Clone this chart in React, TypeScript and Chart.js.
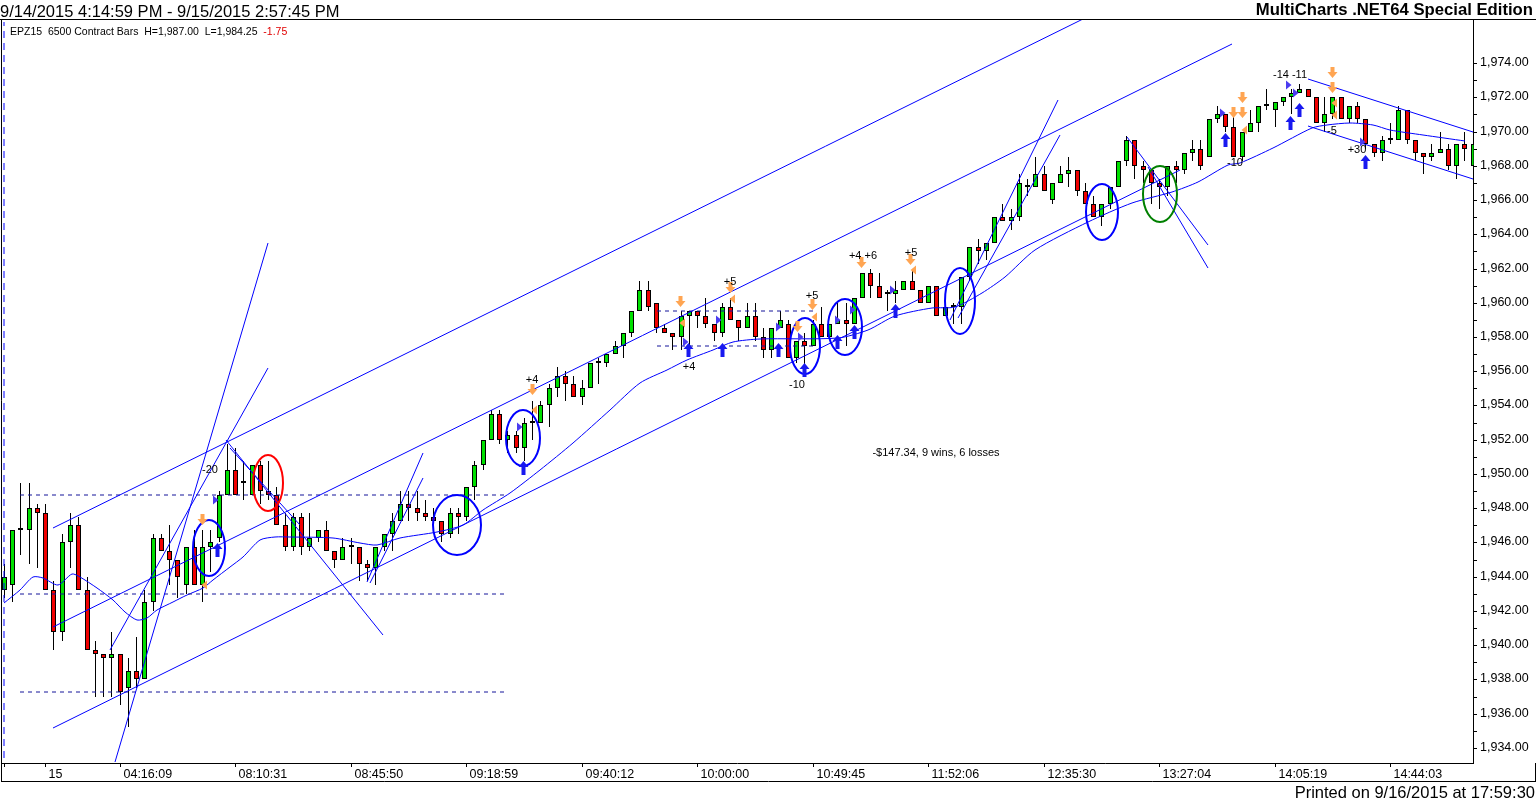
import React, { useEffect, useRef } from 'react';
import { Chart, registerables } from 'chart.js';

Chart.register(...registerables);

// ---------------- data ----------------
const opens = [
  1943.25, 1943.5, 1946.75, 1946.75, 1948.0, 1947.75, 1943.25, 1940.75, 1946.0, 1947.0,
  1943.25, 1939.75, 1939.5, 1939.25, 1939.5, 1937.5, 1938.5, 1938.0, 1942.5, 1946.25,
  1945.5, 1945.0, 1943.5, 1945.75, 1943.5, 1945.75, 1946.25, 1948.75, 1950.25, 1949.5,
  1948.75, 1950.5, 1949.0, 1948.75, 1947.0, 1945.75, 1947.5, 1945.75, 1946.25, 1946.75,
  1945.5, 1945.0, 1945.75, 1945.75, 1944.75, 1944.5, 1945.75, 1946.5, 1947.25, 1948.25,
  1948.0, 1947.75, 1947.5, 1947.25, 1946.5, 1947.75, 1947.5, 1949.25, 1950.5, 1952.0,
  1953.5, 1952.0, 1952.25, 1951.5, 1953.0, 1953.0, 1954.0, 1955.0, 1955.75, 1955.25,
  1954.5, 1955.0, 1956.5, 1956.5, 1957.0, 1957.5, 1958.25, 1959.5, 1960.75, 1960.0,
  1958.5, 1958.25, 1958.0, 1959.25, 1959.5, 1959.25, 1958.75, 1958.25, 1959.75, 1959.0,
  1958.5, 1959.25, 1958.0, 1957.25, 1958.5, 1958.75, 1956.75, 1957.75, 1957.5, 1958.75,
  1958.0, 1958.75, 1959.0, 1958.75, 1960.25, 1961.75, 1961.0, 1960.5, 1960.5, 1960.75,
  1961.25, 1960.75, 1960.0, 1961.0, 1959.25, 1959.75, 1959.75, 1961.5, 1963.25, 1963.0,
  1963.5, 1965.0, 1964.75, 1965.0, 1966.75, 1966.75, 1967.5, 1966.0, 1967.0, 1967.5,
  1967.75, 1966.5, 1965.75, 1965.0, 1965.75, 1966.75, 1968.25, 1969.5, 1968.0, 1967.75,
  1967.0, 1966.75, 1968.0, 1967.75, 1968.75, 1969.0, 1968.5, 1970.75, 1971.0, 1970.25,
  1968.5, 1970.0, 1970.5, 1971.5, 1971.25, 1971.75, 1972.0, 1972.25, 1972.5, 1972.0,
  1970.5, 1971.0, 1972.0, 1970.75, 1971.5, 1970.75, 1969.25, 1968.75, 1969.5, 1969.5,
  1971.25, 1969.5, 1968.75, 1968.5, 1968.75, 1969.0, 1968.0, 1969.25, 1968.0,
];
const highs = [
  1944.75, 1946.75, 1949.5, 1949.5, 1948.25, 1948.25, 1943.75, 1946.5, 1947.75, 1947.5,
  1944.0, 1940.25, 1939.5, 1940.75, 1939.5, 1939.25, 1940.5, 1943.25, 1946.5, 1946.5,
  1947.0, 1945.0, 1945.75, 1946.75, 1946.75, 1946.75, 1949.0, 1951.75, 1951.5, 1950.75,
  1950.5, 1950.75, 1950.75, 1949.25, 1947.75, 1947.75, 1947.75, 1947.75, 1946.75, 1947.25,
  1945.5, 1946.25, 1946.25, 1945.75, 1945.0, 1945.75, 1946.5, 1947.75, 1949.0, 1949.0,
  1949.0, 1948.5, 1948.0, 1947.25, 1948.0, 1948.0, 1949.25, 1950.75, 1952.0, 1953.75,
  1953.75, 1952.5, 1952.5, 1953.25, 1954.25, 1954.25, 1955.25, 1956.25, 1956.0, 1955.75,
  1955.5, 1956.5, 1956.75, 1957.0, 1957.75, 1958.25, 1959.5, 1961.25, 1961.25, 1960.0,
  1958.75, 1958.25, 1959.5, 1959.5, 1959.5, 1960.25, 1958.75, 1960.0, 1960.25, 1959.0,
  1960.0, 1960.0, 1958.5, 1958.5, 1959.5, 1959.0, 1957.75, 1958.25, 1959.0, 1959.75,
  1958.75, 1960.0, 1960.0, 1960.25, 1961.75, 1962.0, 1961.75, 1960.75, 1961.25, 1961.25,
  1962.0, 1960.75, 1961.0, 1961.0, 1959.75, 1960.0, 1961.5, 1963.25, 1963.75, 1963.5,
  1965.0, 1965.75, 1965.5, 1967.5, 1967.25, 1968.5, 1968.0, 1967.0, 1968.0, 1968.5,
  1967.75, 1967.0, 1966.25, 1965.75, 1966.75, 1968.25, 1969.75, 1969.5, 1968.25, 1967.75,
  1967.25, 1968.0, 1968.25, 1968.75, 1969.5, 1969.5, 1970.75, 1971.5, 1971.0, 1971.0,
  1970.0, 1971.25, 1971.5, 1972.5, 1971.75, 1972.0, 1972.5, 1972.75, 1972.5, 1972.0,
  1972.0, 1972.0, 1972.0, 1971.5, 1971.75, 1970.75, 1969.25, 1969.75, 1970.5, 1971.5,
  1971.25, 1969.5, 1968.75, 1969.25, 1970.0, 1969.25, 1969.25, 1970.0, 1969.5,
];
const lows = [
  1942.75, 1942.5, 1945.25, 1944.75, 1944.5, 1943.25, 1939.75, 1940.25, 1944.5, 1943.25,
  1939.75, 1937.0, 1937.0, 1937.0, 1936.5, 1935.25, 1937.5, 1938.0, 1942.0, 1945.5,
  1943.5, 1942.75, 1943.0, 1943.5, 1942.5, 1944.25, 1946.0, 1948.75, 1948.75, 1948.5,
  1948.75, 1948.25, 1948.5, 1947.0, 1945.5, 1945.5, 1945.25, 1945.5, 1946.0, 1945.5,
  1944.5, 1945.0, 1944.75, 1943.75, 1943.75, 1943.5, 1945.5, 1945.5, 1947.25, 1947.25,
  1947.25, 1947.25, 1947.0, 1946.0, 1946.25, 1946.5, 1947.25, 1948.5, 1950.25, 1952.0,
  1951.75, 1951.25, 1951.25, 1950.75, 1952.0, 1953.0, 1952.75, 1954.5, 1954.25, 1954.5,
  1954.0, 1955.0, 1955.25, 1956.25, 1957.0, 1956.75, 1958.0, 1959.5, 1959.5, 1958.25,
  1958.25, 1957.25, 1957.25, 1957.25, 1958.5, 1958.5, 1957.75, 1958.0, 1959.0, 1957.75,
  1958.5, 1957.75, 1956.75, 1956.75, 1958.5, 1956.75, 1956.5, 1956.25, 1957.5, 1958.0,
  1958.0, 1958.75, 1957.5, 1958.75, 1960.25, 1960.25, 1960.25, 1959.5, 1960.0, 1960.75,
  1960.75, 1960.0, 1960.0, 1959.25, 1959.25, 1958.75, 1958.75, 1961.25, 1962.25, 1962.5,
  1963.5, 1964.75, 1964.25, 1964.75, 1966.25, 1966.75, 1966.5, 1965.75, 1967.0, 1966.75,
  1966.25, 1965.75, 1965.0, 1964.5, 1965.5, 1966.75, 1968.0, 1967.25, 1967.0, 1965.75,
  1965.5, 1966.25, 1967.0, 1967.5, 1968.25, 1967.75, 1968.5, 1970.5, 1970.0, 1968.5,
  1968.25, 1970.0, 1970.0, 1971.25, 1970.25, 1971.5, 1971.0, 1972.25, 1972.0, 1970.5,
  1970.0, 1970.75, 1970.75, 1970.5, 1970.5, 1969.0, 1968.5, 1968.25, 1969.25, 1969.5,
  1969.25, 1968.25, 1967.5, 1968.25, 1968.75, 1967.75, 1967.25, 1968.25, 1967.5,
];
const closes = [
  1944.0, 1946.75, 1946.75, 1948.0, 1947.75, 1943.25, 1940.75, 1946.0, 1947.0, 1943.25,
  1939.75, 1939.5, 1939.25, 1939.5, 1937.25, 1938.5, 1938.0, 1942.5, 1946.25, 1945.5,
  1945.0, 1944.0, 1945.75, 1943.5, 1945.75, 1946.0, 1948.75, 1950.25, 1948.75, 1949.5,
  1950.5, 1949.0, 1948.75, 1947.0, 1945.75, 1947.5, 1945.75, 1946.25, 1946.75, 1945.5,
  1945.0, 1945.75, 1945.75, 1944.75, 1944.5, 1945.75, 1946.5, 1947.25, 1948.25, 1948.0,
  1947.75, 1947.5, 1947.25, 1946.5, 1947.75, 1947.5, 1949.25, 1950.5, 1952.0, 1953.5,
  1952.0, 1952.25, 1951.5, 1953.0, 1953.0, 1954.0, 1955.0, 1955.75, 1955.25, 1954.5,
  1955.0, 1956.5, 1956.5, 1957.0, 1957.5, 1958.25, 1959.5, 1960.75, 1959.75, 1958.5,
  1958.25, 1958.0, 1959.25, 1959.5, 1959.25, 1958.75, 1958.25, 1959.75, 1959.0, 1958.5,
  1959.25, 1958.0, 1957.25, 1958.5, 1959.0, 1956.75, 1957.75, 1957.5, 1958.75, 1958.0,
  1958.75, 1959.0, 1958.75, 1960.25, 1961.75, 1961.0, 1960.25, 1960.5, 1960.75, 1961.25,
  1960.75, 1960.0, 1961.0, 1959.25, 1959.75, 1959.75, 1961.5, 1963.25, 1963.0, 1963.5,
  1965.0, 1964.75, 1965.0, 1967.0, 1966.75, 1967.5, 1966.5, 1967.0, 1967.5, 1967.75,
  1966.5, 1965.75, 1965.0, 1965.75, 1966.75, 1968.25, 1969.5, 1968.0, 1967.75, 1967.0,
  1966.75, 1968.0, 1967.75, 1968.75, 1969.0, 1968.0, 1970.75, 1971.0, 1970.25, 1968.5,
  1970.0, 1970.5, 1971.5, 1971.5, 1971.75, 1972.0, 1972.25, 1972.5, 1972.0, 1970.5,
  1971.0, 1972.0, 1970.75, 1971.5, 1970.75, 1969.25, 1968.75, 1969.5, 1969.5, 1971.25,
  1969.5, 1968.75, 1968.5, 1968.75, 1969.0, 1968.0, 1969.25, 1969.0, 1969.25,
];

// x-axis time labels (bar index of each tick)
const xTickIdx = [0, 5, 14, 28, 42, 56, 70, 84, 98, 112, 126, 140, 154, 168];
const xTickLabels = ['', '15', '04:16:09', '08:10:31', '08:45:50', '09:18:59', '09:40:12',
  '10:00:00', '10:49:45', '11:52:06', '12:35:30', '13:27:04', '14:05:19', '14:44:03'];

// price axis
const yMin = 1933.124;
const yMax = 1976.511;
const yTickFirst = 1934;
const yTickLast = 1974;
const xMin = -0.3636;
const xMax = 178.06;

// moving average
const maIdx = [0, 1.94, 3.52, 4.73, 6.55, 8.24, 9.21, 11.27, 13.21, 14.67, 16.12, 17.33, 18.55,
  20.48, 22.18, 24.12, 25.33, 27.39, 28.97, 31.03, 32.85, 34.67, 39.88, 43.15, 45.21, 48.0,
  52.48, 55.64, 58.06, 61.33, 64.97, 68.97, 73.45, 77.09, 80.36, 82.79, 85.94, 88.36, 91.64,
  101.1, 104.7, 108.0, 112.5, 115.3, 118.5, 121.3, 125.0, 131.4, 136.7, 141.6, 144.7, 148.4,
  149.8, 153.8, 158.5, 160.4, 163.2, 165.9, 168.0, 172.0, 177.1];
const maVal = [1942.47, 1943.23, 1943.99, 1943.93, 1943.52, 1944.16, 1943.99, 1943.34, 1942.64,
  1941.94, 1941.47, 1941.59, 1942.06, 1942.53, 1942.93, 1943.34, 1943.81, 1944.57, 1945.15,
  1946.15, 1946.32, 1946.32, 1946.26, 1945.97, 1945.85, 1946.26, 1946.61, 1947.02, 1947.9,
  1948.89, 1950.23, 1951.81, 1953.74, 1955.31, 1956.07, 1956.66, 1957.24, 1957.71, 1957.88,
  1957.94, 1958.41, 1959.23, 1959.69, 1959.75, 1960.57, 1961.5, 1963.08, 1964.72, 1965.82,
  1966.47, 1967.05, 1968.04, 1968.16, 1969.04, 1970.2, 1970.38, 1970.5, 1970.38, 1970.09,
  1969.8, 1969.45];

// trend lines: [startIdx, startPrice, endIdx, endPrice]
const trendLines = [
  [5.94, 1946.85, 131.03, 1976.63],
  [5.94, 1941.07, 148.85, 1975.11],
  [5.94, 1935.17, 142.55, 1967.75],
  [13.45, 1933.18, 32.0, 1963.49],
  [12.85, 1939.72, 32.0, 1956.19],
  [26.9, 1951.99, 45.94, 1940.6],
  [27.4, 1951.52, 35.88, 1947.02],
  [44.0, 1943.69, 50.79, 1951.23],
  [44.36, 1943.63, 50.79, 1949.77],
  [114.67, 1958.99, 127.76, 1971.84],
  [115.64, 1959.11, 128.0, 1969.8],
  [136.12, 1969.68, 145.94, 1963.37],
  [138.67, 1967.93, 145.94, 1962.03],
  [158.06, 1973.07, 178.06, 1969.97],
  [158.06, 1970.32, 178.06, 1967.23],
];

// horizontal dashed levels
const levelPrice = [1948.75, 1943.0, 1937.25, 1959.5, 1957.5];
const levelFrom = [1.94, 1.94, 1.94, 79.2, 79.2];
const levelTo = [61.1, 61.1, 61.1, 98.0, 98.0];
const sessionBreakIdx = -0.06;

// ellipses: centre idx, centre price, half width (bars), half height (points), kind
const ellipseIdx = [24.85, 32.0, 54.9, 62.9, 97.1, 101.9, 115.9, 133.1, 140.1];
const ellipsePrice = [1945.68, 1949.47, 1947.02, 1952.1, 1957.47, 1958.58, 1960.1, 1965.3, 1966.35];
const ellipseHalfBars = [1.94, 1.82, 2.9, 2.06, 1.82, 2.06, 1.82, 1.94, 2.06];
const ellipseHalfPts = [1.64, 1.64, 1.75, 1.64, 1.64, 1.64, 1.93, 1.64, 1.64];
const ellipseKind = ['b', 'r', 'b', 'b', 'b', 'b', 'b', 'b', 'g'];

// trade markers [idx, price]
const shortArrows = [[24.0, 1947.31], [64.0, 1954.9], [81.9, 1960.04], [88.0, 1960.86],
  [96.1, 1958.58], [97.9, 1959.87], [103.9, 1962.32], [109.8, 1962.5], [149.0, 1971.08],
  [150.1, 1971.96], [150.1, 1971.08], [161.0, 1973.42], [161.0, 1972.54]];
const longArrows = [[25.8, 1945.56], [62.9, 1950.35], [82.9, 1957.24], [87.0, 1957.24],
  [93.8, 1957.24], [97.0, 1956.07], [101.0, 1957.71], [103.0, 1958.29], [108.0, 1959.52],
  [148.0, 1969.5], [155.9, 1970.5], [157.0, 1971.26], [165.0, 1968.22]];
const entryMarks = [[25.6, 1948.48], [62.4, 1952.74], [82.5, 1957.71], [86.5, 1959.0],
  [93.8, 1958.58], [96.5, 1958.0], [101.0, 1959.0], [102.8, 1959.58], [107.6, 1960.74],
  [147.6, 1971.08], [155.6, 1972.72], [156.5, 1972.25], [164.6, 1969.39]];
const exitMarks = [[24.4, 1943.52], [64.4, 1953.74], [82.3, 1958.82], [88.4, 1960.22],
  [98.3, 1959.17], [110.3, 1961.91], [150.4, 1970.09], [161.3, 1971.66], [161.3, 1970.96]];

const tradeLabelText = ['-20', '+4', '+4', '+5', '-10', '+5', '+4 +6', '+5', '-10', '-14 -11', '-5', '+30'];
const tradeLabelIdx = [25.0, 64.0, 83.0, 88.0, 96.1, 97.9, 104.1, 109.9, 149.2, 155.9, 161.0, 164.0];
const tradeLabelPrice = [1950.23, 1955.49, 1956.25, 1961.21, 1955.2, 1960.39, 1962.73, 1962.91,
  1968.16, 1973.3, 1970.03, 1968.92];
const summaryText = '-$147.34, 9 wins, 6 losses';
const summaryIdx = 113.0;
const summaryPrice = 1951.23;

// ---------------- styles ----------------
const FONT = '"Liberation Sans", Arial, sans-serif';
const UP = '#00e000';
const DOWN = '#f00000';
const LINE_BLUE = '#0000ff';
const ORANGE = '#ffa552';
const ellipseColors: any = { b: '#0000ff', r: '#ff0000', g: '#008000' };

const overlayPlugin = {
  id: 'overlay',
  beforeDatasetDraw(chart: any, args: any) {
    if (chart.data.datasets[args.index].crisp) {
      chart.ctx.save();
      chart.ctx.translate(0.5, 0);
    }
  },
  afterDatasetDraw(chart: any, args: any) {
    if (chart.data.datasets[args.index].crisp) chart.ctx.restore();
  },
  afterDatasetsDraw(chart: any) {
    const { ctx, chartArea, scales } = chart;
    const X = (v: number) => scales.x.getPixelForValue(v);
    const Y = (v: number) => scales.y.getPixelForValue(v);
    ctx.save();
    ctx.beginPath();
    ctx.rect(chartArea.left, chartArea.top, chartArea.right - chartArea.left, chartArea.bottom - chartArea.top);
    ctx.clip();

    // ellipses
    ctx.lineWidth = 2;
    ellipseIdx.forEach((ix, k) => {
      const cx = X(ix);
      const cy = Y(ellipsePrice[k]);
      const rx = X(ix + ellipseHalfBars[k]) - cx;
      const ry = cy - Y(ellipsePrice[k] + ellipseHalfPts[k]);
      ctx.strokeStyle = ellipseColors[ellipseKind[k]];
      ctx.beginPath();
      ctx.ellipse(cx, cy, rx, ry, 0, 0, Math.PI * 2);
      ctx.stroke();
    });

    // short (down) arrows
    ctx.fillStyle = ORANGE;
    shortArrows.forEach(([ix, p]) => {
      const x = Math.round(X(ix)) + 0.5;
      const y = Math.round(Y(p));
      ctx.beginPath();
      ctx.moveTo(x - 2, y - 6);
      ctx.lineTo(x + 2, y - 6);
      ctx.lineTo(x + 2, y - 1);
      ctx.lineTo(x + 5, y - 1);
      ctx.lineTo(x, y + 5);
      ctx.lineTo(x - 5, y - 1);
      ctx.lineTo(x - 2, y - 1);
      ctx.closePath();
      ctx.fill();
    });
    // long (up) arrows
    ctx.fillStyle = '#1818f0';
    longArrows.forEach(([ix, p]) => {
      const x = Math.round(X(ix)) + 0.5;
      const y = Math.round(Y(p));
      ctx.beginPath();
      ctx.moveTo(x, y - 7);
      ctx.lineTo(x + 5, y - 1);
      ctx.lineTo(x + 2, y - 1);
      ctx.lineTo(x + 2, y + 7);
      ctx.lineTo(x - 2, y + 7);
      ctx.lineTo(x - 2, y - 1);
      ctx.lineTo(x - 5, y - 1);
      ctx.closePath();
      ctx.fill();
    });
    // entry triangles
    ctx.fillStyle = '#4b3cf0';
    entryMarks.forEach(([ix, p]) => {
      const x = Math.round(X(ix));
      const y = Math.round(Y(p));
      ctx.beginPath();
      ctx.moveTo(x - 2, y - 4.5);
      ctx.lineTo(x + 3.5, y);
      ctx.lineTo(x - 2, y + 4.5);
      ctx.closePath();
      ctx.fill();
    });
    // exit triangles
    ctx.fillStyle = ORANGE;
    exitMarks.forEach(([ix, p]) => {
      const x = Math.round(X(ix));
      const y = Math.round(Y(p));
      ctx.beginPath();
      ctx.moveTo(x + 2, y - 4.5);
      ctx.lineTo(x - 3.5, y);
      ctx.lineTo(x + 2, y + 4.5);
      ctx.closePath();
      ctx.fill();
    });

    // texts
    ctx.fillStyle = '#000';
    ctx.font = '11px ' + FONT;
    ctx.textAlign = 'center';
    ctx.textBaseline = 'middle';
    tradeLabelText.forEach((t, k) => {
      ctx.fillText(t, X(tradeLabelIdx[k]), Y(tradeLabelPrice[k]));
    });
    ctx.fillText(summaryText, X(summaryIdx), Y(summaryPrice));
    ctx.restore();
  },
  afterDraw(chart: any) {
    const { ctx } = chart;
    ctx.save();
    ctx.strokeStyle = '#000';
    ctx.lineWidth = 1;
    ctx.beginPath();
    ctx.moveTo(0, 19.5); ctx.lineTo(1536, 19.5);
    ctx.moveTo(1.5, 19.5); ctx.lineTo(1.5, 782);
    ctx.moveTo(1, 781.5); ctx.lineTo(1536, 781.5);
    ctx.moveTo(1535.5, 763); ctx.lineTo(1535.5, 782);
    ctx.stroke();
    ctx.restore();
  },
};

export default function App() {
  const ref = useRef<HTMLCanvasElement>(null);

  useEffect(() => {
    document.body.style.margin = '0';
    const canvas = ref.current;
    if (!canvas) return;
    Chart.defaults.font.family = FONT;

    const idx = opens.map((_, i) => i);
    const bodyColors = idx.map((i) => (closes[i] >= opens[i] ? UP : DOWN));

    const datasets: any[] = [
      {
        type: 'bar',
        label: 'wick',
        data: idx.map((i) => ({ x: i, y: [lows[i], highs[i]] })),
        backgroundColor: '#000',
        borderWidth: 0,
        barThickness: 1,
        grouped: false,
        inflateAmount: 0,
        order: 5,
        crisp: true,
      },
      {
        type: 'bar',
        label: 'body',
        data: idx.map((i) => ({ x: i, y: [opens[i], closes[i]] })),
        backgroundColor: bodyColors,
        borderColor: '#000',
        borderWidth: 1,
        borderSkipped: false,
        barThickness: 5,
        minBarLength: 2,
        grouped: false,
        inflateAmount: 0,
        order: 4,
        crisp: true,
      },
      {
        type: 'line',
        label: 'ma',
        data: maIdx.map((x, k) => ({ x, y: maVal[k] })),
        borderColor: LINE_BLUE,
        borderWidth: 1,
        pointRadius: 0,
        tension: 0.25,
        fill: false,
        order: 2,
      },
      {
        type: 'line',
        label: 'session',
        data: [{ x: sessionBreakIdx, y: yMin + 0.3 }, { x: sessionBreakIdx, y: yMax - 0.1 }],
        borderColor: LINE_BLUE,
        borderWidth: 1,
        borderDash: [7, 5],
        pointRadius: 0,
        fill: false,
        order: 2,
      },
    ];
    trendLines.forEach((l, k) => {
      datasets.push({
        type: 'line',
        label: 'trend' + k,
        data: [{ x: l[0], y: l[1] }, { x: l[2], y: l[3] }],
        borderColor: LINE_BLUE,
        borderWidth: 1,
        pointRadius: 0,
        fill: false,
        order: 1,
      });
    });
    levelPrice.forEach((p, k) => {
      datasets.push({
        type: 'line',
        label: 'level' + k,
        data: [{ x: levelFrom[k], y: p }, { x: levelTo[k], y: p }],
        borderColor: '#14149a',
        borderWidth: 1,
        borderDash: [4, 4],
        pointRadius: 0,
        fill: false,
        order: 1,
      });
    });

    const chart = new Chart(canvas, {
      type: 'bar',
      data: { datasets },
      plugins: [overlayPlugin],
      options: {
        responsive: false,
        animation: false,
        devicePixelRatio: 1,
        events: [],
        layout: { padding: { left: 1, top: 20, right: 0, bottom: 19 } },
        plugins: { legend: { display: false }, tooltip: { enabled: false } },
        scales: {
          x: {
            type: 'linear',
            min: xMin,
            max: xMax,
            offset: false,
            alignToPixels: true,
            grid: { offset: false, drawOnChartArea: false, drawTicks: true, tickLength: 4, color: '#000', tickColor: '#000' },
            border: { display: true, color: '#000', width: 1 },
            afterBuildTicks: (axis: any) => {
              axis.ticks = xTickIdx.map((v) => ({ value: v }));
            },
            afterFit: (axis: any) => {
              axis.height = 19;
            },
            ticks: {
              autoSkip: false,
              maxRotation: 0,
              minRotation: 0,
              align: 'start',
              padding: 0,
              color: '#000',
              font: { family: FONT, size: 12.5 },
              callback: (v: any) => {
                const k = xTickIdx.indexOf(Number(v));
                return k >= 0 && xTickLabels[k] ? ' ' + xTickLabels[k] : '';
              },
            },
          },
          y: {
            type: 'linear',
            position: 'right',
            min: yMin,
            max: yMax,
            beginAtZero: false,
            alignToPixels: true,
            grid: { drawOnChartArea: false, drawTicks: true, tickLength: 4, color: '#000', tickColor: '#000' },
            border: { display: true, color: '#000', width: 1 },
            afterBuildTicks: (axis: any) => {
              const t: any[] = [];
              for (let v = yTickFirst; v <= yTickLast; v += 1) t.push({ value: v });
              axis.ticks = t;
            },
            afterFit: (axis: any) => {
              axis.width = 63;
            },
            ticks: {
              autoSkip: false,
              padding: 3,
              color: '#000',
              font: { family: FONT, size: 12.5 },
              callback: (v: any) =>
                Number(v) % 2 === 0
                  ? Number(v).toLocaleString('en-US', { minimumFractionDigits: 2, maximumFractionDigits: 2 })
                  : '',
            },
          },
        },
      } as any,
    });
    return () => chart.destroy();
  }, []);

  return (
    <div style={{ position: 'relative', width: 1536, height: 801, background: '#fff', overflow: 'hidden', fontFamily: FONT, color: '#000' }}>
      <canvas ref={ref} width={1536} height={801} style={{ position: 'absolute', left: 0, top: 0, width: 1536, height: 801 }} />
      <div style={{ position: 'absolute', left: 0, top: 2, fontSize: 16.5, lineHeight: '18px', whiteSpace: 'pre' }}>
        9/14/2015 4:14:59 PM - 9/15/2015 2:57:45 PM
      </div>
      <div style={{ position: 'absolute', right: 3, top: 1, fontSize: 16.7, fontWeight: 'bold', lineHeight: '18px', whiteSpace: 'pre' }}>
        MultiCharts .NET64 Special Edition
      </div>
      <div style={{ position: 'absolute', left: 10, top: 24.5, fontSize: 10.5, lineHeight: '12px', whiteSpace: 'pre' }}>
        {'EPZ15  6500 Contract Bars  H=1,987.00  L=1,984.25  '}
        <span style={{ color: '#e00000' }}>-1.75</span>
      </div>
      <div style={{ position: 'absolute', right: 1, top: 783, fontSize: 16.5, lineHeight: '18px', whiteSpace: 'pre' }}>
        Printed on 9/16/2015 at 17:59:30
      </div>
    </div>
  );
}
